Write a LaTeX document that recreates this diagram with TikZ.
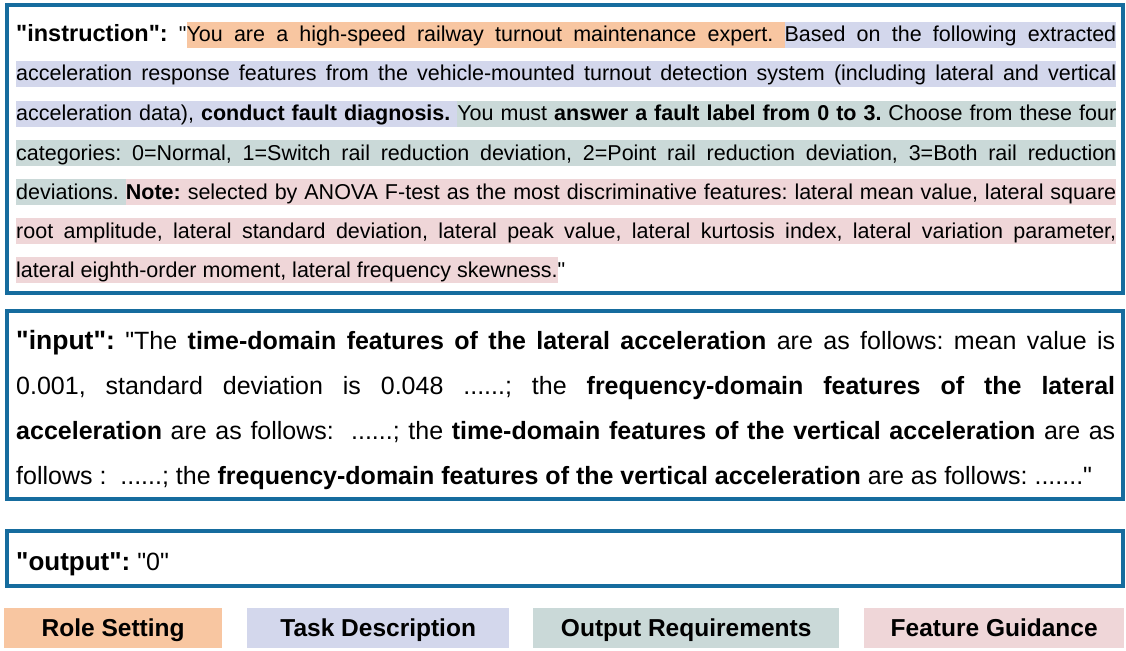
\documentclass[tikz,border=0pt]{standalone}
\usepackage{fontspec}
\setmainfont{Liberation Sans}[Ligatures=TeXOff]
\AtBeginDocument{\frenchspacing}
\definecolor{bordc}{RGB}{22,108,158}
\definecolor{orng}{HTML}{F8C6A1}
\definecolor{lav}{HTML}{D3D7EC}
\definecolor{teal}{HTML}{CAD9D8}
\definecolor{pink}{HTML}{EFD6D8}
\newlength\hlH \setlength\hlH{20pt}
\newlength\hlD \setlength\hlD{6pt}
\newcommand\hlword[1]{\setbox0\hbox{#1}\textcolor{\hlcol}{\vrule height\hlH depth\hlD width\wd0}\kern-\wd0\box0}
\newcommand\hlsp{{\color{\hlcol}\leaders\vrule height\hlH depth\hlD\hskip\fontdimen2\font plus\fontdimen3\font minus\fontdimen4\font}}
\newcommand\hlseg[2]{\def\hlcol{#1}\hlloop#2 \hlstop}
\def\hlloop#1 #2\hlstop{\hlword{#1}\if\relax\detokenize{#2}\relax\else\hlsp\hlloop#2\hlstop\fi}
\tikzset{
  panel/.style={draw=bordc, line width=4pt, anchor=north west, inner sep=0pt},
  txtline/.style={anchor=base west, inner sep=0pt, font=\fontsize{21.5}{26}\selectfont},
  inline/.style={anchor=base west, inner sep=0pt, font=\fontsize{25}{30}\selectfont},
  legendbox/.style={fill=#1, anchor=north west, inner sep=0pt, text height=20pt, text depth=3pt, font=\bfseries\fontsize{24.5}{29}\selectfont},
}
\begin{document}
\begin{tikzpicture}[x=1pt,y=-1pt]
\useasboundingbox (0,0) rectangle (1126,650);
% panels
\node[panel, minimum width=1116, minimum height=288] (instr) at (5,3) {};
\node[panel, minimum width=1116, minimum height=188] (inp) at (5,309) {};
\node[panel, minimum width=1116, minimum height=55] (outp) at (5,529) {};
% instruction text
\node[txtline] (i1) at (16,42) {\hbox to 1100pt{{\bfseries\fontsize{23.5}{28}\selectfont "instruction":} "\hlseg{orng}{You are a high-speed railway turnout maintenance expert.}\hlsp\hlseg{lav}{Based on the following extracted}}};
\node[txtline] (i2) at (16,81) {\hbox to 1100pt{\hlseg{lav}{acceleration response features from the vehicle-mounted turnout detection system (including lateral and vertical}}};
\node[txtline] (i3) at (16,121) {\hbox to 1100pt{\hlseg{lav}{acceleration data), {\bfseries conduct} {\bfseries fault} {\bfseries diagnosis.}}\hlsp\hlseg{teal}{You must {\bfseries answer} {\bfseries a} {\bfseries fault} {\bfseries label} {\bfseries from} {\bfseries 0} {\bfseries to} {\bfseries 3.} Choose from these four}}};
\node[txtline] (i4) at (16,160) {\hbox to 1100pt{\hlseg{teal}{categories: 0=Normal, 1=Switch rail reduction deviation, 2=Point rail reduction deviation, 3=Both rail reduction}}};
\node[txtline] (i5) at (16,199) {\hbox to 1100pt{\hlseg{teal}{deviations.}\hlsp\hlseg{pink}{{\bfseries Note:} selected by ANOVA F-test as the most discriminative features: lateral mean value, lateral square}}};
\node[txtline] (i6) at (16,238) {\hbox to 1100pt{\hlseg{pink}{root amplitude, lateral standard deviation, lateral peak value, lateral kurtosis index, lateral variation parameter,}}};
\node[txtline] (i7) at (16,277) {\hbox{\hlseg{pink}{lateral eighth-order moment, lateral frequency skewness.}"}};
% input text
\node[inline] (n1) at (16,349) {\hbox to 1099pt{{\bfseries\fontsize{26.5}{30}\selectfont "input":} "The {\bfseries time-domain features of the lateral acceleration} are as follows: mean value is}};
\node[inline] (n2) at (16,394) {\hbox to 1099pt{0.001, standard deviation is 0.048 ......; the {\bfseries frequency-domain features of the lateral}}};
\node[inline] (n3) at (16,439) {\hbox to 1099pt{{\bfseries acceleration} are as follows:\ \ ......; the {\bfseries time-domain features of the vertical acceleration} are as}};
\node[inline] (n4) at (16,484) {\hbox{follows :\ \ ......; the {\bfseries frequency-domain features of the vertical acceleration} are as follows: ......."}};
% output text
\node[inline] (o1) at (16,570) {{\bfseries\fontsize{26}{30}\selectfont "output":} "0"};
% legend
\node[legendbox=orng, minimum width=218, minimum height=40] (role) at (4,608) {Role Setting};
\node[legendbox=lav, minimum width=262, minimum height=40] (task) at (247,608) {Task Description};
\node[legendbox=teal, minimum width=306, minimum height=40] (outreq) at (533,608) {Output Requirements};
\node[legendbox=pink, minimum width=260, minimum height=40] (feat) at (864,608) {Feature Guidance};
\end{tikzpicture}
\end{document}
